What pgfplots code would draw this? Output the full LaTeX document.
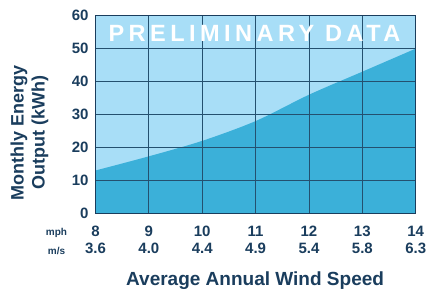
\documentclass[border=0pt]{standalone}
\usepackage{fontspec}
\setmainfont{Liberation Sans}
\usepackage{pgfplots}
\pgfplotsset{compat=1.18}
\definecolor{navy}{HTML}{1A3D5D}
\definecolor{lightb}{HTML}{A8DEF7}
\definecolor{darkb}{HTML}{3BB0D9}
\definecolor{gridc}{HTML}{24506F}
\begin{document}
\begin{tikzpicture}[x=1pt,y=1pt]
\useasboundingbox (-95.5,-77.7) rectangle (331.5,213.3);
\begin{axis}[
  at={(0,0)}, anchor=south west,
  scale only axis, width=320.2pt, height=197.6pt,
  xmin=8, xmax=14, ymin=0, ymax=60,
  xtick={8,9,10,11,12,13,14},
  ytick={0,10,20,30,40,50,60},
  xticklabels={{8\\3.6},{9\\4.0},{10\\4.4},{11\\4.9},{12\\5.4},{13\\5.8},{14\\6.3}},
  grid=major,
  major grid style={gridc, line width=0.9pt},
  axis line style={navy, line width=1.4pt},
  axis background/.style={fill=lightb},
  axis on top,
  major tick length=0pt,
  tick label style={font=\fontsize{15}{17.6}\selectfont\bfseries, text=navy},
  xticklabel style={align=center, anchor=center, yshift=-26.5pt},
  yticklabel style={xshift=-3.5pt},
  /pgf/number format/assume math mode=true,
  clip=false,
]
\addplot[fill=darkb, draw=none, smooth, tension=0.5] coordinates {
  (8,13) (9,17.3) (10,22) (11,28) (12,36) (13,43) (14,50)
} \closedcycle;
\end{axis}
\node[anchor=base, text=white, font=\fontsize{23.5}{23.5}\selectfont\bfseries\addfontfeature{LetterSpace=19}] at (159,171.3) {PRELIMINARY DATA};
\node[rotate=90, align=center, text=navy, font=\fontsize{18}{21}\selectfont\bfseries] at (-66,80.8) {Monthly Energy\\Output (kWh)};
\node[anchor=base, text=navy, font=\fontsize{19}{19}\selectfont\bfseries] at (159.6,-72.4) {Average Annual Wind Speed};
\node[text=navy, font=\fontsize{10}{10}\selectfont\bfseries] at (-39,-20) {mph};
\node[text=navy, font=\fontsize{10}{10}\selectfont\bfseries] at (-39,-38) {m/s};
\end{tikzpicture}
\end{document}
